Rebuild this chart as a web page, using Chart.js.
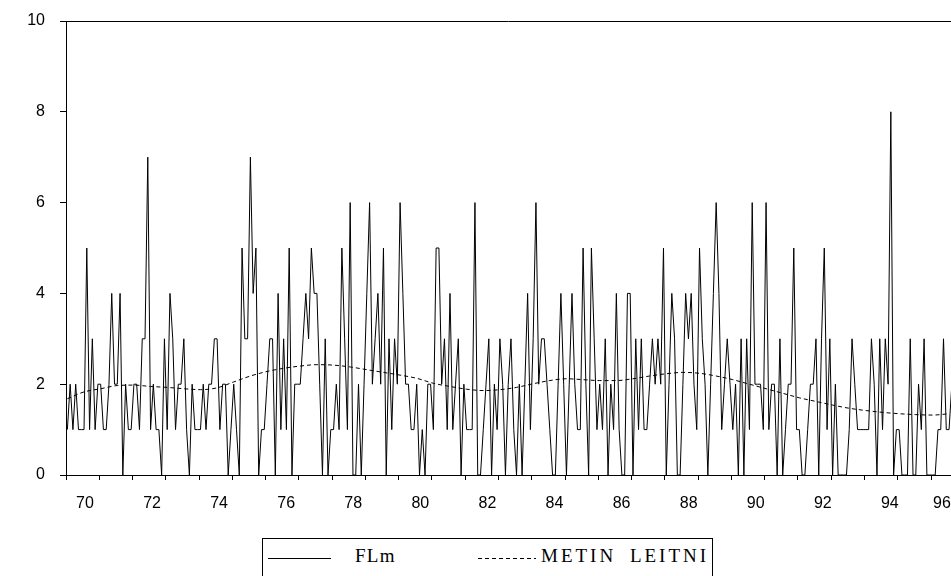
<!DOCTYPE html>
<html>
<head>
<meta charset="utf-8">
<script src="https://cdn.jsdelivr.net/npm/chart.js@4.4.1/dist/chart.umd.min.js"></script>
<style>
  html, body { margin: 0; padding: 0; background: #fff; overflow: hidden; }
  #wrap { position: relative; width: 951px; height: 576px; }
  #legend { position: absolute; left: 262px; top: 538px; width: 451px; height: 60px;
            border: 1px solid #000; box-sizing: border-box;
            font-family: "Liberation Serif", "Times New Roman", serif; font-size: 19px; color: #000; }
  #legend .item { position: absolute; top: 6px; white-space: nowrap; }
  #legend svg { position: absolute; top: 18px; }
</style>
</head>
<body>
<div id="wrap">
  <canvas id="chart" width="951" height="520"></canvas>
  <div id="legend">
    <svg style="left:5px" width="63" height="3"><line x1="0" y1="1.5" x2="63" y2="1.5" stroke="#000" stroke-width="1"/></svg>
    <span class="item" style="left:92px; letter-spacing:1.3px">FLm</span>
    <svg style="left:215px" width="58" height="3"><line x1="0" y1="1.5" x2="58" y2="1.5" stroke="#000" stroke-width="1" stroke-dasharray="4 3"/></svg>
    <span class="item" style="left:278px; letter-spacing:3px; word-spacing:6px">METIN LEITNI</span>
  </div>
</div>
<script>
// monthly observations, first one is 1970:01
const startYear = 1970;
const flm = [
  1,2,1,2,1,1,1,5,1,3,1,2,2,1,1,2,4,2,2,4,0,2,1,1,2,
  2,1,3,3,7,1,2,1,1,0,3,1,4,3,1,2,2,3,1,0,2,1,1,1,2,1,2,
  2,3,3,1,2,2,0,1,2,1,0,5,3,3,7,4,5,0,1,1,2,3,3,0,4,1,3,1,5,
  0,2,2,2,3,4,3,5,4,4,2,0,3,0,1,1,2,1,5,3,1,6,0,0,2,0,2,
  4,6,2,3,4,2,5,0,3,1,3,2,6,4,2,2,1,1,2,0,1,0,2,2,1,5,5,
  2,3,1,4,1,2,3,0,2,1,1,1,6,0,0,1,2,3,0,2,1,3,2,0,2,3,1,
  0,2,0,2,4,1,3,6,2,3,3,2,1,0,0,2,4,2,0,2,4,2,1,1,5,2,0,
  5,3,1,2,1,3,0,2,1,4,1,0,0,4,4,0,3,1,3,1,1,2,3,2,3,2,
  5,0,2,4,3,0,0,2,4,3,4,2,1,5,3,2,0,2,4,6,4,1,2,3,2,1,2,
  0,3,0,3,1,6,2,2,2,1,6,1,2,2,0,3,0,1,2,2,5,1,1,0,0,1,
  2,2,3,0,3,5,1,3,0,2,0,0,0,0,1,3,2,1,1,1,1,1,3,2,0,3,1,3,2,
  8,0,1,1,0,0,0,3,0,0,2,1,3,0,0,0,0,1,1,3,1,1,2
];
// smooth curve, one reading every 6 months
const trendStep = 6;
const trend = [
  1.68,1.83,1.90,1.97,1.98,1.95,1.93,1.90,1.88,1.92,2.05,2.18,2.28,2.35,2.40,2.43,
  2.42,2.38,2.32,2.26,2.20,2.13,2.02,1.95,1.89,1.86,1.88,1.93,2.01,2.08,2.12,2.10,
  2.08,2.08,2.12,2.18,2.23,2.26,2.24,2.18,2.10,2.00,1.90,1.80,1.70,1.62,1.54,1.47,
  1.42,1.38,1.35,1.33,1.32,1.35
];
const yTicks = [0, 2, 4, 6, 8, 10];
const xLabelYears = [1970,1972,1974,1976,1978,1980,1982,1984,1986,1988,1990,1992,1994,1996];
const xMax = 1996.6;

const flmPts = flm.map((v, i) => ({ x: startYear + (i + 0.5) / 12, y: v }));
const trendPts = trend.map((v, i) => ({ x: startYear + (i * trendStep + 0.5) / 12, y: v }));

// year labels sit a little right of mid-year and drift slightly; last one is kept inside
function labelPos(y) {
  return Math.min(y + 0.57 + 0.008 * (y - startYear), xMax - 0.27);
}

const frameTop = {
  id: 'frameTop',
  afterDraw(chart) {
    const { ctx, chartArea } = chart;
    ctx.save();
    ctx.strokeStyle = '#000';
    ctx.lineWidth = 1;
    ctx.beginPath();
    ctx.moveTo(chartArea.left, chartArea.top + 0.5);
    ctx.lineTo(chartArea.right, chartArea.top + 0.5);
    ctx.stroke();
    ctx.restore();
  }
};

const tickFont = { family: '"Liberation Sans", Arial, sans-serif', size: 16 };

new Chart(document.getElementById('chart'), {
  type: 'line',
  data: {
    datasets: [
      { label: 'FLm', data: flmPts, borderColor: '#000', borderWidth: 1, pointRadius: 0, tension: 0, fill: false },
      { label: 'METIN LEITNI', data: trendPts, borderColor: '#000', borderWidth: 1, borderDash: [4, 3],
        pointRadius: 0, cubicInterpolationMode: 'monotone', fill: false }
    ]
  },
  options: {
    responsive: false,
    animation: false,
    layout: { padding: { top: 21, left: 0, right: 0, bottom: 0 } },
    plugins: { legend: { display: false }, tooltip: { enabled: false } },
    scales: {
      x: {
        type: 'linear',
        min: startYear,
        max: xMax,
        afterBuildTicks: (axis) => {
          const t = [];
          for (let y = startYear; y <= Math.floor(xMax); y++) t.push({ value: y, mark: true });
          xLabelYears.forEach(y => t.push({ value: labelPos(y), text: String(y % 100) }));
          t.sort((a, b) => a.value - b.value);
          axis.ticks = t;
        },
        afterFit: (s) => { s.height = 45; s.paddingLeft = 0; s.paddingRight = 0; },
        border: { display: true, color: '#000', width: 1 },
        grid: {
          drawOnChartArea: false, tickLength: 5, lineWidth: 1,
          tickColor: (c) => (c.tick && c.tick.mark) ? '#000' : 'rgba(0,0,0,0)'
        },
        ticks: {
          autoSkip: false, maxRotation: 0, padding: 14, color: '#000', font: tickFont,
          callback: function (v, i, ticks) { return ticks[i].text || ''; }
        }
      },
      y: {
        min: 0,
        max: 10,
        afterBuildTicks: (axis) => { axis.ticks = yTicks.map(v => ({ value: v })); },
        afterFit: (s) => { s.width = 66; s.paddingTop = 0; s.paddingBottom = 0; },
        border: { display: true, color: '#000', width: 1 },
        grid: { drawOnChartArea: false, tickLength: 6, tickColor: '#000' },
        ticks: { padding: 15, color: '#000', font: tickFont }
      }
    }
  },
  plugins: [frameTop]
});
</script>
</body>
</html>
